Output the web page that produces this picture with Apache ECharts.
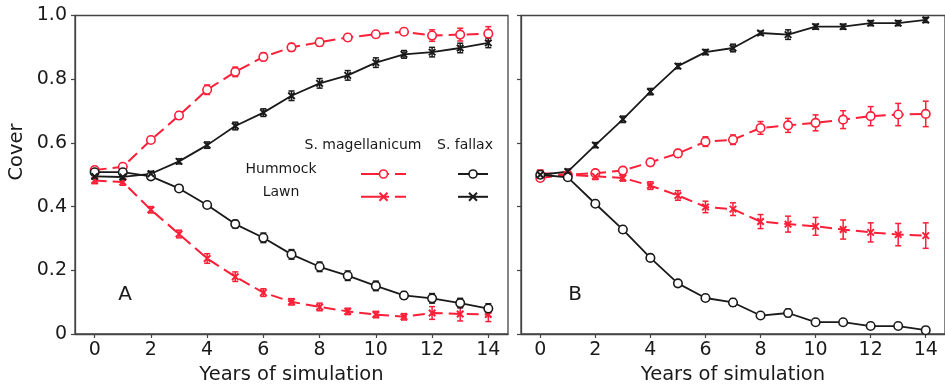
<!DOCTYPE html>
<html>
<head>
<meta charset="utf-8">
<script src="https://cdn.jsdelivr.net/npm/echarts@6/dist/echarts.min.js"></script>
<style>
  html, body { margin: 0; padding: 0; background: #fff; }
  #chart { width: 945px; height: 390px; }
</style>
</head>
<body>
<div id="chart"></div>
<script>
// x values and ticks
const years = [0, 1, 2, 3, 4, 5, 6, 7, 8, 9, 10, 11, 12, 13, 14];
const xTicks = [0, 2, 4, 6, 8, 10, 12, 14];

// Panel A - mean cover
const aMagHummock = [0.515, 0.525, 0.609, 0.686, 0.767, 0.823, 0.870, 0.900, 0.916, 0.931, 0.941, 0.949, 0.937, 0.940, 0.943];
const aMagLawn    = [0.482, 0.477, 0.390, 0.314, 0.237, 0.180, 0.130, 0.101, 0.085, 0.071, 0.061, 0.054, 0.066, 0.063, 0.061];
const aFalHummock = [0.508, 0.508, 0.495, 0.457, 0.405, 0.345, 0.302, 0.250, 0.211, 0.183, 0.151, 0.121, 0.112, 0.097, 0.080];
const aFalLawn    = [0.495, 0.493, 0.503, 0.542, 0.593, 0.653, 0.695, 0.748, 0.787, 0.812, 0.852, 0.878, 0.885, 0.898, 0.914];
// Panel A - error (half length)
const aMagHummockErr = [0.010, 0.010, 0.010, 0.012, 0.015, 0.015, 0.012, 0.012, 0.012, 0.010, 0.010, 0.010, 0.018, 0.020, 0.022];
const aMagLawnErr    = [0.010, 0.010, 0.010, 0.012, 0.015, 0.015, 0.012, 0.010, 0.012, 0.010, 0.010, 0.010, 0.020, 0.022, 0.022];
const aFalHummockErr = [0.008, 0.008, 0.008, 0.008, 0.008, 0.012, 0.015, 0.015, 0.015, 0.015, 0.015, 0.012, 0.015, 0.015, 0.015];
const aFalLawnErr    = [0.008, 0.008, 0.008, 0.008, 0.010, 0.012, 0.012, 0.015, 0.015, 0.015, 0.015, 0.012, 0.015, 0.015, 0.015];

// Panel B - mean cover
const bMagHummock = [0.490, 0.500, 0.505, 0.513, 0.539, 0.567, 0.604, 0.610, 0.647, 0.655, 0.663, 0.673, 0.684, 0.689, 0.691];
const bMagLawn    = [0.505, 0.500, 0.495, 0.490, 0.466, 0.435, 0.399, 0.392, 0.353, 0.345, 0.338, 0.328, 0.319, 0.312, 0.309];
const bFalHummock = [0.500, 0.492, 0.409, 0.328, 0.239, 0.159, 0.113, 0.099, 0.058, 0.066, 0.037, 0.037, 0.025, 0.025, 0.012];
const bFalLawn    = [0.500, 0.510, 0.593, 0.674, 0.761, 0.841, 0.885, 0.898, 0.945, 0.940, 0.965, 0.965, 0.976, 0.976, 0.986];
// Panel B - error (half length)
const bMagHummockErr = [0.010, 0.008, 0.008, 0.010, 0.010, 0.012, 0.015, 0.015, 0.020, 0.022, 0.025, 0.028, 0.030, 0.035, 0.040];
const bMagLawnErr    = [0.010, 0.010, 0.010, 0.010, 0.012, 0.015, 0.018, 0.020, 0.022, 0.025, 0.028, 0.030, 0.030, 0.035, 0.040];
const bFalHummockErr = [0.005, 0.005, 0.006, 0.010, 0.010, 0.008, 0.008, 0.012, 0.006, 0.012, 0.006, 0.006, 0.005, 0.005, 0.005];
const bFalLawnErr    = [0.008, 0.008, 0.008, 0.010, 0.010, 0.008, 0.008, 0.012, 0.006, 0.015, 0.008, 0.008, 0.008, 0.008, 0.008];

const RED = '#fb1f38';
const BLACK = '#1a1a1a';
const AXIS = '#444';
const FONT = 'DejaVu Sans';
const X_MARK = 'path://M0,0L10,10M10,0L0,10';

const chart = echarts.init(document.getElementById('chart'), null, { renderer: 'canvas' });

// line + markers
function lineSeries(name, values, idx, color, hollow, dashed) {
    return {
        name,
        type: 'line',
        xAxisIndex: idx,
        yAxisIndex: idx,
        data: years.map((x, i) => [x, values[i]]),
        symbol: hollow ? 'circle' : X_MARK,
        symbolSize: hollow ? 8.5 : 6.5,
        showSymbol: true,
        z: 3,
        animation: false,
        lineStyle: { color, width: dashed ? 2 : 1.8, type: dashed ? [12, 6] : 'solid' },
        itemStyle: hollow
            ? { color: '#fff', borderColor: color, borderWidth: 1.6 }
            : { color, borderColor: color, borderWidth: 2 }
    };
}

// vertical error bars with caps
function errorSeries(values, errs, idx, color) {
    return {
        type: 'custom',
        xAxisIndex: idx,
        yAxisIndex: idx,
        z: 2,
        animation: false,
        silent: true,
        data: years.map((x, i) => [x, values[i] - errs[i], values[i] + errs[i]]),
        encode: { x: 0, y: [1, 2] },
        renderItem: (params, api) => {
            const x = api.value(0);
            const lo = api.coord([x, api.value(1)]);
            const hi = api.coord([x, api.value(2)]);
            const cap = 3;
            const style = { stroke: color, lineWidth: 1.5 };
            return {
                type: 'group',
                children: [
                    { type: 'line', shape: { x1: hi[0], y1: hi[1], x2: lo[0], y2: lo[1] }, style },
                    { type: 'line', shape: { x1: hi[0] - cap, y1: hi[1], x2: hi[0] + cap, y2: hi[1] }, style },
                    { type: 'line', shape: { x1: lo[0] - cap, y1: lo[1], x2: lo[0] + cap, y2: lo[1] }, style }
                ]
            };
        }
    };
}

function xAxis(idx) {
    return {
        type: 'value',
        gridIndex: idx,
        min: -0.7,
        max: 14.7,
        axisLine: { show: true, onZero: false, lineStyle: { color: AXIS, width: 1.3 } },
        axisTick: { show: true, customValues: xTicks, length: 4, lineStyle: { color: AXIS, width: 1.2 } },
        axisLabel: { customValues: xTicks, fontSize: 19, color: BLACK, fontFamily: FONT, margin: 7 },
        splitLine: { show: false },
        name: 'Years of simulation',
        nameLocation: 'middle',
        nameGap: 31,
        nameTextStyle: { fontSize: 19.5, color: BLACK, fontFamily: FONT }
    };
}

function yAxis(idx, labels) {
    return {
        type: 'value',
        gridIndex: idx,
        min: 0,
        max: 1,
        interval: 0.2,
        axisLine: { show: true, onZero: false, lineStyle: { color: AXIS, width: 1.3 } },
        axisTick: { show: true, length: 4, lineStyle: { color: AXIS, width: 1.2 } },
        axisLabel: {
            show: labels,
            fontSize: 19,
            color: BLACK,
            fontFamily: FONT,
            margin: 8,
            formatter: v => (v === 0 ? '0' : v.toFixed(1))
        },
        splitLine: { show: false }
    };
}

const legendText = { fontFamily: FONT, fontSize: 14, fill: BLACK, textAlign: 'center', textVerticalAlign: 'middle' };

const option = {
    backgroundColor: '#fff',
    animation: false,
    grid: [
        { left: 75, top: 15.5, width: 433, height: 322.5, show: true, borderColor: AXIS, borderWidth: 1.3, backgroundColor: 'transparent' },
        { left: 521, top: 15.5, width: 433, height: 322.5, show: true, borderColor: AXIS, borderWidth: 1.3, backgroundColor: 'transparent' }
    ],
    xAxis: [xAxis(0), xAxis(1)],
    yAxis: [yAxis(0, true), yAxis(1, false)],
    legend: [
        {
            data: [
                { name: 'A mag Hummock', itemStyle: { borderWidth: 1.6 }, lineStyle: { type: [28, 6], width: 2 } },
                { name: 'A mag Lawn', itemStyle: { borderWidth: 2 }, lineStyle: { type: [28, 6], width: 2 } }
            ],
            orient: 'vertical',
            left: 355,
            top: 164,
            itemWidth: 45,
            itemHeight: 10,
            itemGap: 13,
            selectedMode: false,
            formatter: () => ''
        },
        {
            data: [
                { name: 'A fal Hummock', itemStyle: { borderWidth: 1.6 } },
                { name: 'A fal Lawn', itemStyle: { borderWidth: 2 } }
            ],
            orient: 'vertical',
            left: 452,
            top: 164,
            itemWidth: 30,
            itemHeight: 10,
            itemGap: 13,
            selectedMode: false,
            formatter: () => ''
        }
    ],
    graphic: [
        { type: 'text', x: 17, y: 152, rotation: Math.PI / 2, style: { text: 'Cover', fontFamily: FONT, fontSize: 19.5, fill: BLACK, textAlign: 'center', textVerticalAlign: 'middle' } },
        { type: 'text', x: 125, y: 295, style: { text: 'A', fontFamily: FONT, fontSize: 20, fill: BLACK, textAlign: 'center', textVerticalAlign: 'middle' } },
        { type: 'text', x: 575, y: 295, style: { text: 'B', fontFamily: FONT, fontSize: 20, fill: BLACK, textAlign: 'center', textVerticalAlign: 'middle' } },
        { type: 'text', x: 363, y: 145, style: Object.assign({ text: 'S. magellanicum' }, legendText) },
        { type: 'text', x: 465, y: 145, style: Object.assign({ text: 'S. fallax' }, legendText) },
        { type: 'text', x: 281, y: 169, style: Object.assign({ text: 'Hummock' }, legendText) },
        { type: 'text', x: 281, y: 192, style: Object.assign({ text: 'Lawn' }, legendText) }
    ],
    series: [
        errorSeries(aMagHummock, aMagHummockErr, 0, RED),
        errorSeries(aMagLawn, aMagLawnErr, 0, RED),
        errorSeries(aFalHummock, aFalHummockErr, 0, BLACK),
        errorSeries(aFalLawn, aFalLawnErr, 0, BLACK),
        lineSeries('A mag Hummock', aMagHummock, 0, RED, true, true),
        lineSeries('A mag Lawn', aMagLawn, 0, RED, false, true),
        lineSeries('A fal Hummock', aFalHummock, 0, BLACK, true, false),
        lineSeries('A fal Lawn', aFalLawn, 0, BLACK, false, false),

        errorSeries(bMagHummock, bMagHummockErr, 1, RED),
        errorSeries(bMagLawn, bMagLawnErr, 1, RED),
        errorSeries(bFalHummock, bFalHummockErr, 1, BLACK),
        errorSeries(bFalLawn, bFalLawnErr, 1, BLACK),
        lineSeries('B mag Hummock', bMagHummock, 1, RED, true, true),
        lineSeries('B mag Lawn', bMagLawn, 1, RED, false, true),
        lineSeries('B fal Hummock', bFalHummock, 1, BLACK, true, false),
        lineSeries('B fal Lawn', bFalLawn, 1, BLACK, false, false)
    ]
};

chart.setOption(option);
</script>
</body>
</html>
